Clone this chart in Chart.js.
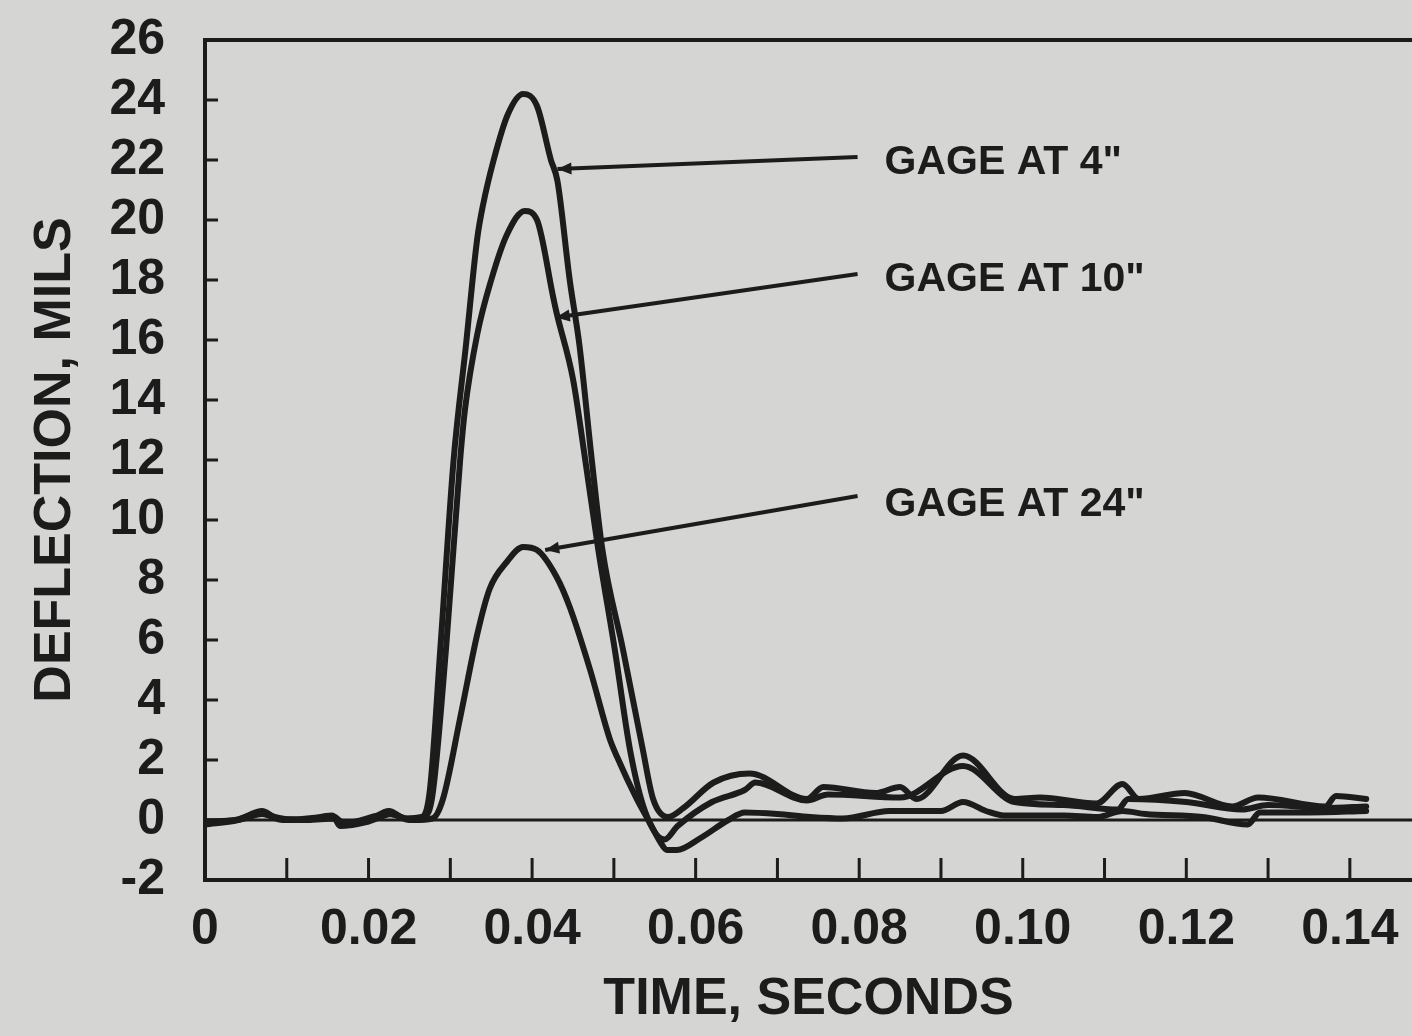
<!DOCTYPE html>
<html>
<head>
<meta charset="utf-8">
<script src="https://cdn.jsdelivr.net/npm/chart.js@4.4.0/dist/chart.umd.min.js"></script>
<style>
  html, body { margin: 0; padding: 0; background: #d5d5d3; }
  #wrap { width: 1412px; height: 1036px; }
</style>
</head>
<body>
<div id="wrap"><canvas id="myChart" width="1412" height="1036"></canvas></div>
<script>
// datos (tiempo en s, deflexion en mils)
const gage4Time = [0, 0.004, 0.007, 0.0085, 0.012, 0.0155, 0.017, 0.020, 0.0225, 0.0245, 0.0265,
  0.0275, 0.0288, 0.0304, 0.0319, 0.0333, 0.0340, 0.0353, 0.0370, 0.0389, 0.0406, 0.0423, 0.0431,
  0.0446, 0.0458, 0.0473, 0.0486, 0.0511, 0.0535, 0.0548, 0.0566, 0.0585, 0.0622, 0.0666, 0.0736,
  0.0756, 0.0820, 0.0850, 0.0870, 0.0927, 0.0990, 0.1021, 0.1090, 0.1122, 0.1142, 0.1198, 0.1256,
  0.1288, 0.1370, 0.1383, 0.1420];
const gage4Defl = [-0.15, 0.0, 0.3, 0.1, 0.0, 0.15, -0.1, 0.0, 0.3, 0.05, 0.1,
  1.0, 5.8, 12.0, 15.8, 19.4, 20.5, 22.0, 23.5, 24.2, 23.8, 22.0, 21.3,
  18.0, 15.8, 12.0, 9.0, 5.7, 2.4, 0.7, 0.1, 0.4, 1.25, 1.55, 0.7,
  1.1, 0.9, 1.1, 0.7, 2.15, 0.7, 0.75, 0.55, 1.2, 0.7, 0.9, 0.45,
  0.75, 0.45, 0.8, 0.7];

const gage10Time = [0, 0.004, 0.007, 0.009, 0.0125, 0.0158, 0.0165, 0.020, 0.0228, 0.025, 0.0268,
  0.0278, 0.0295, 0.0312, 0.0318, 0.0333, 0.0350, 0.0369, 0.0391, 0.0406, 0.0426, 0.0430,
  0.0450, 0.0465, 0.0481, 0.0501, 0.0520, 0.0538, 0.0562, 0.0578, 0.0620, 0.0660, 0.0673,
  0.0736, 0.0762, 0.0850, 0.0927, 0.0990, 0.1050, 0.1116, 0.1129, 0.1200, 0.1268, 0.1300,
  0.1370, 0.1420];
const gage10Defl = [-0.1, 0.02, 0.25, 0.05, 0.0, 0.05, -0.2, -0.05, 0.2, 0.0, 0.1,
  0.8, 5.8, 12.0, 13.7, 16.2, 18.0, 19.5, 20.3, 20.0, 17.4, 16.9,
  14.7, 12.0, 9.0, 5.7, 2.3, 0.3, -0.65, -0.2, 0.6, 1.0, 1.25,
  0.65, 0.85, 0.75, 1.8, 0.6, 0.5, 0.35, 0.7, 0.6, 0.35, 0.5,
  0.4, 0.45];

const gage24Time = [0, 0.004, 0.007, 0.0095, 0.0155, 0.017, 0.0225, 0.0255, 0.0278,
  0.0291, 0.0312, 0.0333, 0.0348, 0.0369, 0.0389, 0.0406, 0.0430, 0.0446, 0.0471,
  0.0495, 0.0504, 0.0528, 0.0544, 0.0556, 0.0565, 0.0577, 0.0606, 0.0640, 0.0660,
  0.0700, 0.0740, 0.0780, 0.0837, 0.0900, 0.0927, 0.0955, 0.0977, 0.1050, 0.1091,
  0.1122, 0.1150, 0.1220, 0.1275, 0.1290, 0.1350, 0.1420];
const gage24Defl = [-0.05, 0.0, 0.2, 0.0, 0.1, -0.1, 0.2, 0.0, 0.05,
  0.7, 3.4, 6.2, 7.7, 8.6, 9.1, 9.0, 8.1, 7.1, 5.0,
  2.7, 2.1, 0.7, -0.1, -0.7, -1.0, -1.0, -0.6, 0.0, 0.25,
  0.2, 0.1, 0.05, 0.3, 0.3, 0.6, 0.3, 0.15, 0.15, 0.1,
  0.3, 0.2, 0.1, -0.15, 0.25, 0.25, 0.3];

// ejes
const yTicks = [-2, 0, 2, 4, 6, 8, 10, 12, 14, 16, 18, 20, 22, 24, 26];
const xTicks = [0, 0.01, 0.02, 0.03, 0.04, 0.05, 0.06, 0.07, 0.08, 0.09, 0.10, 0.11, 0.12, 0.13, 0.14];
const xLabels = ['0', '', '0.02', '', '0.04', '', '0.06', '', '0.08', '', '0.10', '', '0.12', '', '0.14'];

// etiquetas con flecha: punta en la curva, cola junto al texto
const noteText = ['GAGE AT 4"', 'GAGE AT 10"', 'GAGE AT 24"'];
const noteTip = [[0.0431, 21.7], [0.0429, 16.75], [0.0416, 9.0]];
const noteTail = [[0.0798, 22.1], [0.0798, 18.2], [0.0798, 10.8]];
const noteTextAt = [[0.0831, 21.9], [0.0831, 18.0], [0.0831, 10.5]];

const ink = '#1c1c1c';
const paper = '#d5d5d3';
const fontFam = '"Liberation Sans", Arial, Helvetica, sans-serif';

const toPoints = (t, d) => t.map((v, i) => ({ x: v, y: d[i] }));

const framePlugin = {
  id: 'framePlugin',
  beforeDraw(chart) {
    const { ctx, width, height } = chart;
    ctx.save();
    ctx.fillStyle = paper;
    ctx.fillRect(0, 0, width, height);
    ctx.restore();
  },
  beforeDatasetsDraw(chart) {
    const { ctx, chartArea: a, scales: { x, y } } = chart;
    ctx.save();
    ctx.strokeStyle = ink;
    // borde superior
    ctx.lineWidth = 4;
    ctx.beginPath();
    ctx.moveTo(a.left - 2, a.top);
    ctx.lineTo(a.right, a.top);
    ctx.stroke();
    // linea de cero
    ctx.lineWidth = 3;
    const y0 = y.getPixelForValue(0);
    ctx.beginPath();
    ctx.moveTo(a.left, y0);
    ctx.lineTo(a.right, y0);
    ctx.stroke();
    // marcas hacia adentro
    ctx.lineWidth = 3;
    ctx.beginPath();
    yTicks.forEach(v => {
      const py = y.getPixelForValue(v);
      ctx.moveTo(a.left, py);
      ctx.lineTo(a.left + 13, py);
    });
    xTicks.forEach(v => {
      if (v === 0) return;
      const px = x.getPixelForValue(v);
      ctx.moveTo(px, a.bottom);
      ctx.lineTo(px, a.bottom - 22);
    });
    ctx.stroke();
    ctx.restore();
  },
  afterDatasetsDraw(chart) {
    const { ctx, scales: { x, y } } = chart;
    ctx.save();
    ctx.strokeStyle = ink;
    ctx.fillStyle = ink;
    ctx.lineWidth = 4;
    noteText.forEach((txt, i) => {
      const tx = x.getPixelForValue(noteTip[i][0]), ty = y.getPixelForValue(noteTip[i][1]);
      const sx = x.getPixelForValue(noteTail[i][0]), sy = y.getPixelForValue(noteTail[i][1]);
      const ang = Math.atan2(ty - sy, tx - sx);
      ctx.beginPath();
      ctx.moveTo(sx, sy);
      ctx.lineTo(tx, ty);
      ctx.stroke();
      // punta de flecha
      const L = 14, W = 6;
      ctx.beginPath();
      ctx.moveTo(tx, ty);
      ctx.lineTo(tx - L * Math.cos(ang) + W * Math.sin(ang), ty - L * Math.sin(ang) - W * Math.cos(ang));
      ctx.lineTo(tx - L * Math.cos(ang) - W * Math.sin(ang), ty - L * Math.sin(ang) + W * Math.cos(ang));
      ctx.closePath();
      ctx.fill();
      ctx.font = 'bold 41px ' + fontFam;
      ctx.textAlign = 'left';
      ctx.textBaseline = 'middle';
      ctx.fillText(txt, x.getPixelForValue(noteTextAt[i][0]), y.getPixelForValue(noteTextAt[i][1]));
    });
    ctx.restore();
  }
};

const lineStyle = {
  borderColor: ink,
  borderWidth: 6,
  pointRadius: 0,
  fill: false,
  cubicInterpolationMode: 'monotone',
  borderJoinStyle: 'round',
  borderCapStyle: 'round'
};

const ctx = document.getElementById('myChart').getContext('2d');
const myChart = new Chart(ctx, {
  type: 'line',
  data: {
    datasets: [
      { label: 'GAGE AT 4"', data: toPoints(gage4Time, gage4Defl), ...lineStyle },
      { label: 'GAGE AT 10"', data: toPoints(gage10Time, gage10Defl), ...lineStyle },
      { label: 'GAGE AT 24"', data: toPoints(gage24Time, gage24Defl), ...lineStyle }
    ]
  },
  options: {
    responsive: false,
    animation: false,
    devicePixelRatio: 1,
    layout: { padding: { top: 40, right: 0, left: 0, bottom: 0 } },
    plugins: { legend: { display: false }, tooltip: { enabled: false } },
    scales: {
      x: {
        type: 'linear',
        min: 0,
        max: 0.1476,
        grid: { display: false, drawTicks: false },
        border: { display: true, color: ink, width: 4 },
        afterBuildTicks: (s) => { s.ticks = xTicks.map(v => ({ value: v })); },
        afterFit: (s) => { s.height = 156; s.paddingLeft = 0; s.paddingRight = 0; },
        ticks: {
          autoSkip: false,
          maxRotation: 0,
          padding: 20,
          color: ink,
          font: { family: fontFam, size: 50, weight: 'bold' },
          callback: (v, i) => xLabels[i]
        },
        title: {
          display: true,
          text: 'TIME, SECONDS',
          color: ink,
          padding: { top: 0, bottom: 5 },
          font: { family: fontFam, size: 52, weight: 'bold' }
        }
      },
      y: {
        type: 'linear',
        min: -2,
        max: 26,
        grid: { display: false, drawTicks: false },
        border: { display: true, color: ink, width: 4 },
        afterBuildTicks: (s) => { s.ticks = yTicks.map(v => ({ value: v })); },
        afterFit: (s) => { s.width = 205; s.paddingTop = 0; s.paddingBottom = 0; },
        ticks: {
          autoSkip: false,
          padding: 40,
          color: ink,
          font: { family: fontFam, size: 50, weight: 'bold' }
        },
        title: {
          display: true,
          text: 'DEFLECTION, MILS',
          color: ink,
          padding: { top: 24, bottom: 0 },
          font: { family: fontFam, size: 52, weight: 'bold' }
        }
      }
    }
  },
  plugins: [framePlugin]
});
</script>
</body>
</html>
